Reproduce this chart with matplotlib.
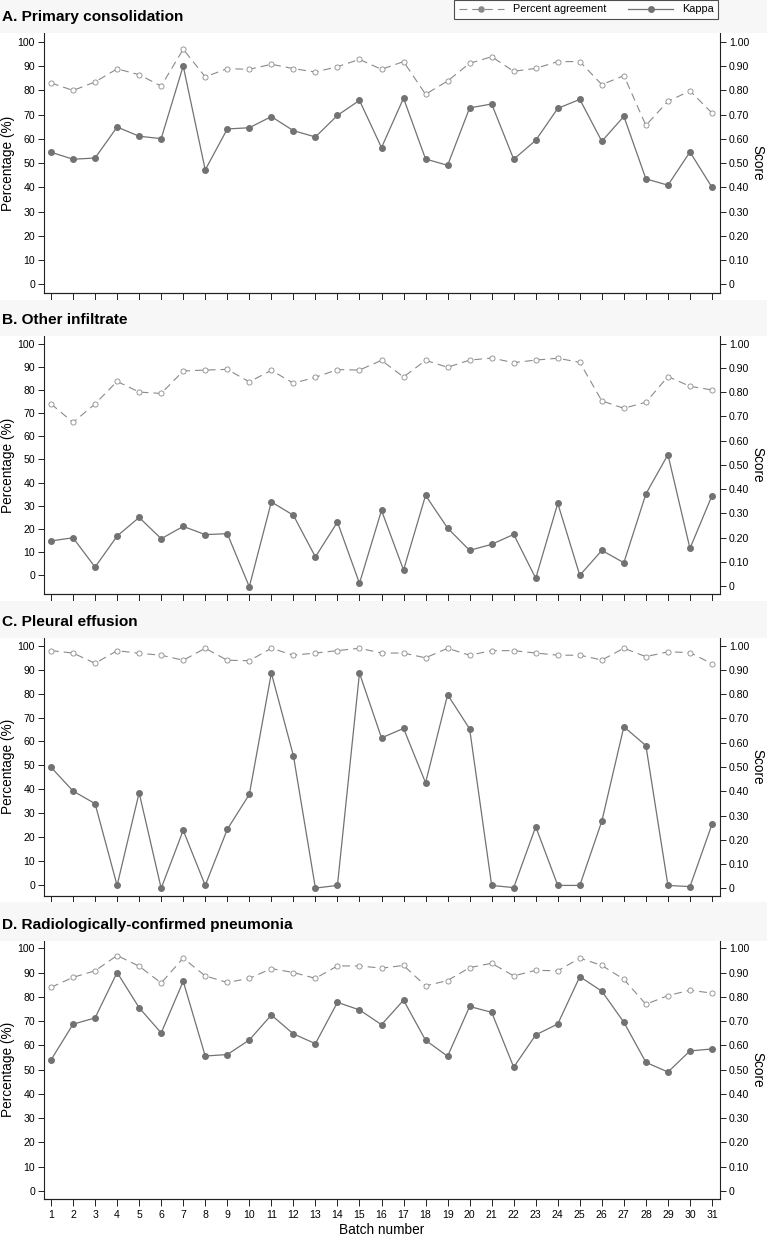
import numpy as np
import matplotlib
matplotlib.use("Agg")
import matplotlib.pyplot as plt
from matplotlib.lines import Line2D
from matplotlib.patches import Rectangle

plt.rcParams['font.family'] = ['Liberation Sans', 'DejaVu Sans']

batches = list(range(1, 31 + 1))

titles = [
    "A. Primary consolidation",
    "B. Other infiltrate",
    "C. Pleural effusion",
    "D. Radiologically-confirmed pneumonia",
]

# percent agreement (%), left axis
pa_a = [83.1, 80.0, 83.5, 88.9, 86.5, 81.8, 97.0, 85.6, 89.0, 88.7, 90.8, 89.0, 87.6, 89.8, 92.8, 88.7,
        91.9, 78.4, 83.9, 91.2, 93.9, 87.9, 89.1, 91.9, 91.9, 82.4, 86.1, 65.6, 75.5, 79.8, 70.7]
pa_b = [74.0, 66.0, 74.0, 83.7, 79.1, 78.5, 88.2, 88.6, 88.9, 83.5, 88.5, 82.9, 85.5, 88.8, 88.6, 92.8,
        85.6, 92.8, 89.8, 92.9, 93.8, 91.8, 92.9, 93.7, 91.9, 75.3, 72.1, 74.7, 85.8, 81.6, 80.0]
pa_c = [97.9, 96.9, 92.6, 97.9, 96.8, 96.0, 93.9, 98.9, 93.9, 93.7, 98.9, 96.0, 96.9, 97.9, 98.9, 96.9,
        96.9, 94.9, 98.9, 96.0, 97.9, 97.9, 96.9, 96.0, 96.0, 94.0, 98.9, 95.4, 97.4, 97.1, 92.4]
pa_d = [83.9, 88.0, 90.7, 97.0, 92.6, 85.7, 95.9, 88.6, 85.9, 87.6, 91.6, 90.0, 87.6, 92.7, 92.7, 91.8,
        92.9, 84.5, 86.7, 92.0, 93.8, 88.6, 90.9, 90.7, 95.9, 92.9, 87.2, 76.9, 80.5, 82.7, 81.5]

# kappa score, right axis
kappa_a = [0.545, 0.516, 0.521, 0.649, 0.611, 0.601, 0.901, 0.472, 0.641, 0.646, 0.692, 0.634, 0.608,
           0.697, 0.759, 0.564, 0.768, 0.517, 0.491, 0.728, 0.744, 0.516, 0.594, 0.726, 0.763, 0.590,
           0.693, 0.435, 0.409, 0.546, 0.400]
kappa_b = [0.186, 0.199, 0.078, 0.206, 0.283, 0.195, 0.246, 0.212, 0.216, -0.003, 0.347, 0.292, 0.120,
           0.264, 0.011, 0.312, 0.066, 0.374, 0.239, 0.147, 0.172, 0.213, 0.032, 0.341, 0.044, 0.147,
           0.096, 0.380, 0.542, 0.155, 0.373]
kappa_c = [0.499, 0.401, 0.349, 0.012, 0.394, 0.000, 0.239, 0.012, 0.243, 0.387, 0.887, 0.547, 0.001,
           0.012, 0.887, 0.620, 0.659, 0.435, 0.798, 0.657, 0.012, 0.003, 0.254, 0.012, 0.012, 0.277,
           0.666, 0.588, 0.012, 0.007, 0.264]
kappa_d = [0.540, 0.687, 0.713, 0.900, 0.755, 0.651, 0.864, 0.556, 0.562, 0.622, 0.725, 0.647, 0.607,
           0.777, 0.746, 0.685, 0.786, 0.621, 0.555, 0.760, 0.736, 0.510, 0.643, 0.688, 0.883, 0.823,
           0.695, 0.530, 0.490, 0.577, 0.585]

pa_all = [pa_a, pa_b, pa_c, pa_d]
kappa_all = [kappa_a, kappa_b, kappa_c, kappa_d]

W, H = 767, 1235
# axes boxes in pixels: (top, bottom)
boxes = [(33, 293), (336, 594), (637.7, 896), (940.7, 1199)]
left_ylims = [(-3.6, 103.7), (-8.06, 103.3), (-4.45, 103.3), (-3.3, 103.1)]
right_ylims = [(-0.036, 1.037), (-0.033, 1.0316), (-0.0316, 1.0328), (-0.033, 1.031)]
bands = [(0, 33), (300, 336), (601, 638), (902, 941)]

pa_col = "#8a8a8a"
k_col = "#727272"
ax_col = "#222222"

fig = plt.figure(figsize=(W / 100, H / 100), dpi=100)
fig.patch.set_facecolor("white")

for (b0, b1) in bands:
    fig.patches.append(Rectangle((0, 1 - b1 / H), 1, (b1 - b0) / H, transform=fig.transFigure,
                                 facecolor="#f7f7f7", edgecolor="none", zorder=0))

x0, x1 = 44, 720
for i in range(4):
    top, bot = boxes[i]
    ax = fig.add_axes([x0 / W, 1 - bot / H, (x1 - x0) / W, (bot - top) / H])
    ax2 = ax.twinx()

    ax.plot(batches, pa_all[i], color=pa_col, lw=0.8, ls=(0, (7, 4.5)), marker="o", ms=3.7,
            mfc="white", mec=pa_col, mew=0.6, zorder=3)
    ax2.plot(batches, kappa_all[i], color=k_col, lw=0.9, marker="o", ms=4.0,
             mfc=k_col, mec=k_col, zorder=3)

    ax.set_xlim(0.682, 31.363)
    ax.set_ylim(*left_ylims[i])
    ax2.set_ylim(*right_ylims[i])
    ax.set_xticks(batches)
    ax.set_yticks(range(0, 101, 10))
    ax2.set_yticks(np.arange(0, 1.01, 0.1))
    ax2.set_yticklabels(["0"] + ["%.2f" % v for v in np.arange(0.1, 1.01, 0.1)])

    for a in (ax, ax2):
        a.spines["top"].set_visible(False)
        for s in ("left", "right", "bottom"):
            a.spines[s].set_color(ax_col)
            a.spines[s].set_linewidth(0.8)
        a.tick_params(axis="both", direction="out", length=4.5, width=0.7, color=ax_col,
                      labelsize=7.6, pad=2)
    ax.spines["right"].set_visible(False)
    ax2.spines["left"].set_visible(False)
    ax.tick_params(axis="x", length=5)

    if i < 3:
        ax.set_xticklabels([])
    else:
        ax.tick_params(axis="x", pad=3)
        ax.set_xlabel("Batch number", fontsize=9.8, labelpad=2)

    ax.set_ylabel("Percentage (%)", fontsize=9.8, labelpad=2)
    ax2.set_ylabel("Score", fontsize=9.8, rotation=270, labelpad=11)

    fig.text(2 / W, 1 - (top - 16) / H, titles[i], fontsize=11.1, fontweight="bold",
             ha="left", va="center")

handles = [
    Line2D([], [], color=pa_col, lw=0.8, ls=(0, (7, 4.5)), marker="o", ms=3.7,
           mfc=pa_col, mec=pa_col),
    Line2D([], [], color=k_col, lw=0.9, marker="o", ms=4.0, mfc=k_col, mec=k_col),
]
leg = fig.legend(handles, ["Percent agreement", "Kappa"], loc="upper right",
                 bbox_to_anchor=(718 / W, 1.0), ncol=2, fontsize=7.8, frameon=True,
                 fancybox=False, handlelength=4.2, handletextpad=0.8, columnspacing=2.0,
                 borderpad=0.4, borderaxespad=0)
leg.get_frame().set_edgecolor("#222222")
leg.get_frame().set_linewidth(0.8)

fig.savefig("out.png", dpi=100, facecolor=fig.get_facecolor())
